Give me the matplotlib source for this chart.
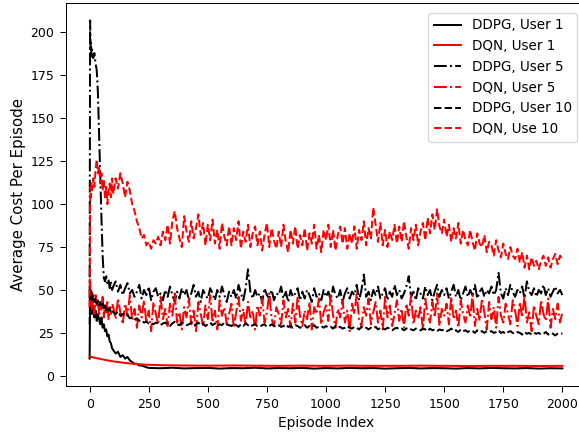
import matplotlib
matplotlib.use("Agg")
import matplotlib.pyplot as plt

# episode index of the noisy curves: dense at the start, then every 10 episodes
EARLY_EP = [0, 2, 4, 6, 8, 10, 15, 20, 25, 30, 35, 40, 45, 50, 55, 60, 65, 70, 75, 80, 85, 90, 95]
EPISODES = EARLY_EP + list(range(100, 2001, 10))

# DDPG, User 1 (smooth after ~250)
ddpg_u1_ep = EARLY_EP + list(range(100, 250, 10)) + list(range(250, 2001, 50))
ddpg_u1 = [10, 48, 42, 38, 45, 36, 40, 34, 38, 32, 36, 33, 30, 34, 28, 30, 26, 27, 23, 24, 20, 19, 16,
           15, 13, 14, 11, 12, 10, 11, 9, 8, 7, 7, 6, 6, 5.5, 5,
           4.6, 4.4, 4.7, 4.3, 4.5, 4.6, 4.2, 4.5, 4.4, 4.7, 4.3, 4.5, 4.4, 4.6, 4.2, 4.5, 4.3, 4.6,
           4.4, 4.5, 4.2, 4.4, 4.6, 4.3, 4.5, 4.4, 4.2, 4.5, 4.3, 4.6, 4.4, 4.3, 4.5, 4.2, 4.4, 4.3]

# DQN, User 1
dqn_u1_ep = [0, 25, 50, 75, 100, 150, 200, 250, 300] + list(range(400, 2001, 100))
dqn_u1 = [11.2, 10.4, 9.7, 9.0, 8.4, 7.5, 6.8, 6.4, 6.2,
          6.0, 5.9, 6.0, 5.9, 5.8, 5.9, 5.8, 5.9, 5.8, 5.8, 5.9, 5.8, 5.7, 5.8, 5.8, 5.7, 5.8]

ddpg_u5 = [45, 207, 190, 194, 186, 190, 185, 188, 182, 178, 165, 140, 115, 92, 70, 57, 55, 58, 54, 56, 51, 55, 50,
           52, 55, 49, 53, 47, 51, 54, 48, 50, 46,
           49, 53, 45, 50, 47, 52, 44, 49, 51, 46,
           48, 44, 50, 46, 52, 47, 43, 49, 45, 51,
           47, 50, 44, 48, 53, 46, 49, 43, 50, 47,
           45, 51, 48, 44, 50, 46, 52, 47, 43, 49,
           46, 50, 45, 53, 48, 44, 51, 62, 49, 45,
           50, 46, 48, 43, 51, 47, 45, 50, 44, 48,
           47, 52, 45, 49, 43, 50, 46, 48, 51, 44,
           49, 45, 50, 47, 43, 51, 46, 48, 44, 50,
           46, 49, 44, 52, 47, 45, 50, 43, 48, 51,
           45, 49, 47, 53, 44, 50, 59, 46, 49, 44,
           50, 47, 52, 45, 48, 51, 44, 49, 46, 53,
           47, 50, 45, 48, 52, 58, 46, 49, 44, 51,
           48, 45, 52, 47, 50, 44, 49, 53, 46, 50,
           47, 51, 45, 49, 53, 46, 50, 44, 48, 52,
           46, 50, 47, 53, 45, 49, 51, 46, 50, 48,
           52, 47, 50, 60, 48, 45, 51, 47, 53, 49,
           46, 50, 48, 52, 45, 55, 49, 47, 51, 46,
           50, 48, 53, 47, 51, 46, 49, 52, 48, 50,
           47]

dqn_u5 = [40, 55, 48, 42, 50, 38, 45, 36, 47, 40, 44, 35, 42, 38, 46, 34, 41, 37, 44, 33, 40, 36, 42,
          40, 33, 45, 37, 30, 42, 35, 47, 32, 39,
          28, 41, 34, 44, 31, 38, 26, 43, 36, 30,
          46, 33, 39, 29, 42, 35, 48, 31, 37, 27,
          40, 34, 45, 30, 38, 26, 43, 36, 29, 41,
          33, 47, 31, 38, 27, 44, 35, 40, 30, 36,
          42, 28, 37, 46, 32, 39, 29, 43, 34, 38,
          27, 41, 35, 45, 31, 37, 48, 33, 29, 40,
          36, 30, 44, 34, 39, 28, 42, 31, 46, 35,
          29, 38, 33, 43, 27, 40, 36, 45, 30, 37,
          41, 32, 47, 35, 28, 39, 34, 44, 31, 38,
          26, 42, 36, 48, 33, 29, 40, 35, 45, 30,
          37, 43, 31, 38, 27, 46, 34, 41, 29, 36,
          44, 32, 39, 28, 42, 35, 47, 30, 38, 33,
          40, 27, 45, 36, 31, 43, 34, 48, 29, 39,
          35, 42, 30, 46, 33, 38, 28, 44, 36, 31,
          41, 34, 47, 29, 39, 32, 45, 37, 27, 43,
          33, 40, 28, 46, 35, 31, 42, 36, 30, 44,
          38, 29, 43, 34, 47, 31, 37, 26, 41, 35,
          30, 44, 36, 32, 45, 28, 39, 33, 42, 31,
          37]

ddpg_u10 = [30, 46, 50, 45, 48, 44, 47, 43, 45, 42, 44, 41, 43, 40, 42, 39, 41, 38, 40, 38, 39, 37, 38,
            37, 36, 37.5, 35, 36, 34.5, 35.5, 33.5, 34, 33,
            33.5, 32, 32.5, 31, 31.5, 30.5, 31, 30, 31, 30.5,
            29.5, 30.5, 31, 30, 29, 30.5, 31.5, 30, 29.5, 31,
            30.5, 29.5, 30, 31, 29, 30, 31, 29.5, 30.5, 29,
            30, 31, 29.5, 30.5, 29, 30, 29.5, 31, 30, 29.5,
            29, 30.5, 29.5, 28.5, 30, 29, 30.5, 29.5, 28.5, 29.5,
            30, 29, 28.5, 29.5, 30, 28.5, 29, 30, 29, 28.5,
            29.5, 28.5, 29, 30, 28.5, 29, 28, 29.5, 29, 28,
            28.5, 29.5, 28, 29, 28.5, 29.5, 28, 28.5, 29, 28,
            29, 28, 28.5, 27.5, 29, 28, 28.5, 27.5, 28, 29,
            28, 27.5, 28.5, 28, 27, 28.5, 27.5, 28, 27, 28,
            27.5, 28.5, 27, 28, 27.5, 27, 28, 27.5, 26.5, 27.5,
            28, 27, 27.5, 26.5, 27.5, 28, 27, 26.5, 27.5, 27,
            26.5, 27.5, 27, 26, 27.5, 26.5, 27, 26, 27, 26.5,
            27, 26, 26.5, 27.5, 26, 26.5, 25.5, 27, 26, 26.5,
            25.5, 26.5, 26, 25, 26.5, 25.5, 26, 25, 26, 25.5,
            26, 25, 25.5, 26.5, 25, 25.5, 24.5, 25.5, 26, 25,
            24.5, 25.5, 25, 24, 25.5, 24.5, 25, 24, 25, 24.5,
            25, 24, 24.5, 25.5, 24, 25, 24.5, 23.5, 24.5, 25,
            24.5]

dqn_u10 = [40, 100, 110, 104, 112, 108, 115, 110, 120, 126, 118, 122, 112, 118, 108, 114, 104, 110, 100, 108, 112, 104, 115,
           106, 115, 109, 118, 112, 104, 113, 108, 100, 96,
           90, 86, 80, 82, 76, 78, 74, 79, 77, 81,
           76, 84, 79, 88, 77, 90, 96, 86, 80, 75,
           93, 84, 78, 90, 80, 86, 94, 82, 89, 76,
           88, 79, 91, 77, 85, 74, 89, 81, 76, 87,
           76, 86, 79, 90, 74, 84, 78, 88, 75, 83,
           87, 76, 84, 73, 82, 89, 75, 86, 79, 74,
           84, 75, 88, 78, 72, 85, 77, 87, 74, 82,
           76, 86, 73, 83, 77, 88, 74, 82, 72, 85,
           79, 88, 75, 85, 73, 82, 87, 77, 86, 74,
           83, 77, 87, 74, 85, 79, 90, 76, 86, 80,
           98, 88, 78, 89, 76, 85, 75, 84, 79, 88,
           77, 87, 78, 90, 81, 74, 86, 79, 88, 76,
           84, 89, 79, 92, 83, 94, 85, 97, 87, 83,
           91, 81, 88, 78, 86, 80, 89, 77, 85, 79,
           76, 85, 78, 73, 83, 77, 75, 82, 72, 78,
           76, 70, 79, 73, 69, 77, 71, 68, 75, 70,
           68, 74, 66, 72, 63, 70, 62, 69, 64, 67,
           62, 67, 70, 64, 69, 63, 68, 71, 65, 70,
           68]

for s in (ddpg_u5, dqn_u5, ddpg_u10, dqn_u10):
    assert len(s) == len(EPISODES)
assert len(ddpg_u1) == len(ddpg_u1_ep) and len(dqn_u1) == len(dqn_u1_ep)

W, H, DPI = 579, 432, 90
fig = plt.figure(figsize=(W / DPI, H / DPI), dpi=DPI)
ax = fig.add_axes([66 / W, (H - 386) / H, (586 - 66) / W, (386 - 3) / H])

LW = 1.6
ax.plot(ddpg_u1_ep, ddpg_u1, "-", color="black", lw=LW, label="DDPG, User 1")
ax.plot(dqn_u1_ep, dqn_u1, "-", color="red", lw=LW, label="DQN, User 1")
ax.plot(EPISODES, ddpg_u5, "-.", color="black", lw=LW, label="DDPG, User 5")
ax.plot(EPISODES, dqn_u5, "-.", color="red", lw=LW, label="DQN, User 5")
ax.plot(EPISODES, ddpg_u10, "--", color="black", lw=LW, label="DDPG, User 10")
ax.plot(EPISODES, dqn_u10, "--", color="red", lw=LW, label="DQN, Use 10")

ax.set_xlabel("Episode Index", fontsize=11)
ax.set_ylabel("Average Cost Per Episode", fontsize=12, labelpad=3)
ax.set_xticks([0, 250, 500, 750, 1000, 1250, 1500, 1750, 2000])
ax.tick_params(length=5, pad=4.5)
ax.legend(loc="upper right", bbox_to_anchor=(577 / W, 1 - 13 / H),
          bbox_transform=fig.transFigure, borderaxespad=0, fontsize=10.8)

fig.savefig("out.png", dpi=DPI)
